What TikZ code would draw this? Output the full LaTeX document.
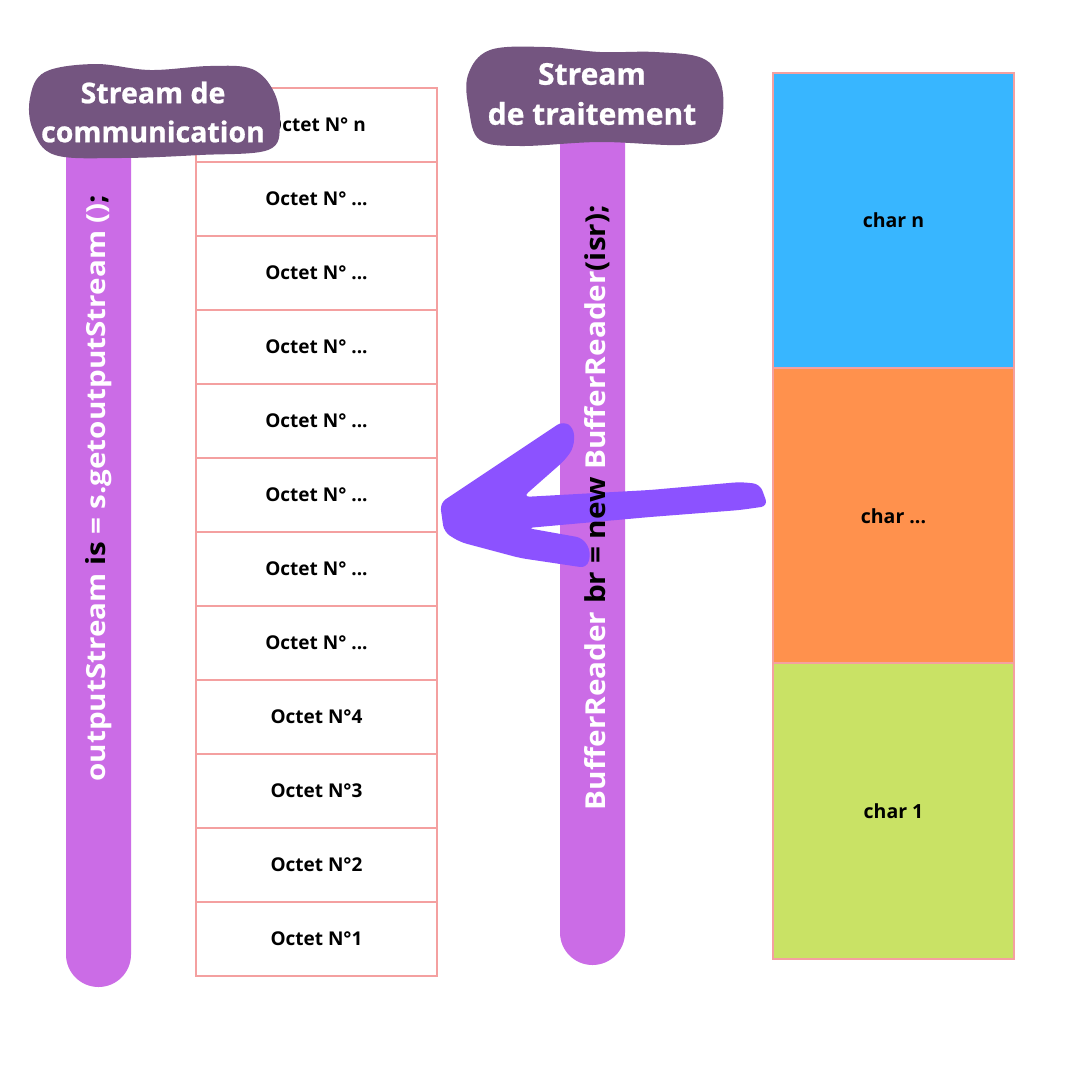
\documentclass[tikz,border=0pt]{standalone}
\usepackage{fontspec}
\setmainfont{Open Sans}
\newfontfamily\heavyfont{Open Sans}[BoldFeatures={FakeBold=0.8}]
\usepackage{graphicx}
\definecolor{barc}{HTML}{CB6CE6}
\definecolor{blobc}{HTML}{745580}
\definecolor{pinkc}{HTML}{F4A0A0}
\definecolor{bluec}{HTML}{38B6FF}
\definecolor{orangec}{HTML}{FF914D}
\definecolor{greenc}{HTML}{C9E265}
\definecolor{arrowc}{HTML}{8C52FF}
\tikzset{
  octcell/.style={draw=pinkc, line width=2pt, fill=white, minimum width=241pt, minimum height=74pt, inner sep=0pt, font=\fontsize{19}{22}\selectfont\bfseries},
  charcell/.style={draw=pinkc, line width=2pt, minimum width=241pt, minimum height=295.3pt, inner sep=0pt, font=\fontsize{19.5}{22}\selectfont\bfseries},
  blob/.style={fill=blobc},
  blobtext/.style={text=white, align=center, font=\heavyfont\bfseries},
  vtext/.style={rotate=90, inner sep=0pt, font=\bfseries}
}
\begin{document}
\begin{tikzpicture}[x=1pt,y=-1pt]
\useasboundingbox (0,0) rectangle (1080,1080);
\fill[white] (0,0) rectangle (1080,1080);
% bars
\fill[barc] (66,140) -- (66,954.5) arc[start angle=180, end angle=0, radius=32.5] -- (131,140) -- cycle;
\fill[barc] (560,130) -- (560,932.5) arc[start angle=180, end angle=0, radius=32.5] -- (625,130) -- cycle;
% octet column
\foreach \i/\t in {0/{Octet N° n},1/{Octet N° ...},2/{Octet N° ...},3/{Octet N° ...},4/{Octet N° ...},5/{Octet N° ...},6/{Octet N° ...},7/{Octet N° ...},8/{Octet N°4},9/{Octet N°3},10/{Octet N°2},11/{Octet N°1}}{
  \node[octcell] (oct\i) at (316.5,{125+74*\i}) {\t};
}
% char column
\node[charcell, fill=bluec] (chn) at (893.5,220.5) {char n};
\node[charcell, fill=orangec] (chm) at (893.5,515.8) {char ...};
\node[charcell, fill=greenc] (ch1) at (893.5,811.1) {char 1};
% blobs
\fill[blob] plot[smooth cycle, tension=0.6] coordinates {(45,72) (95,64) (150,70) (210,66) (252,69) (274,92) (280,125) (268,150) (200,155) (120,158) (55,155) (33,130) (30,98)};
\node[blobtext, font=\heavyfont\bfseries\fontsize{28.5}{39}\selectfont] (lbl1) at (153,112) {Stream de\\communication};
\fill[blob] plot[smooth cycle, tension=0.6] coordinates {(490,50) (545,47) (600,52) (655,52) (702,58) (720,80) (723,112) (714,137) (680,145) (600,142) (520,146) (480,140) (469,110) (468,75)};
\node[blobtext, font=\heavyfont\bfseries\fontsize{30}{40}\selectfont] (lbl2) at (592,94) {Stream\\de traitement};
% arrow
\fill[arrowc, rounded corners=7pt] (740,482) -- (760,484) -- (768,506) -- (740,510) -- (650,517) -- (527,528) -- (583,538) -- (591,552) -- (587,568) -- (520,558) -- (460,542) -- (444,532) -- (440,503) -- (470,483) -- (563,421) -- (574,428) -- (574,447) -- (565,460) -- (523,497) -- (650,490) -- cycle;
\coordinate (arrtip) at (440,510);
% vertical texts
\node[vtext] (ltxt) at (99,488) {\resizebox{587pt}{20pt}{\fontsize{26}{26}\selectfont\textcolor{white}{outputStream\ }\textcolor{black}{is}\textcolor{white}{\ =\ s.getoutputStream\ ()}\textcolor{black}{;}}};
\node[vtext] (rtxt) at (597,507.5) {\resizebox{605pt}{21pt}{\fontsize{26}{26}\selectfont\textcolor{white}{BufferReader\ }\textcolor{black}{br\ =\ new\ }\textcolor{white}{BufferReader}\textcolor{black}{(isr);}}};
\end{tikzpicture}
\end{document}
